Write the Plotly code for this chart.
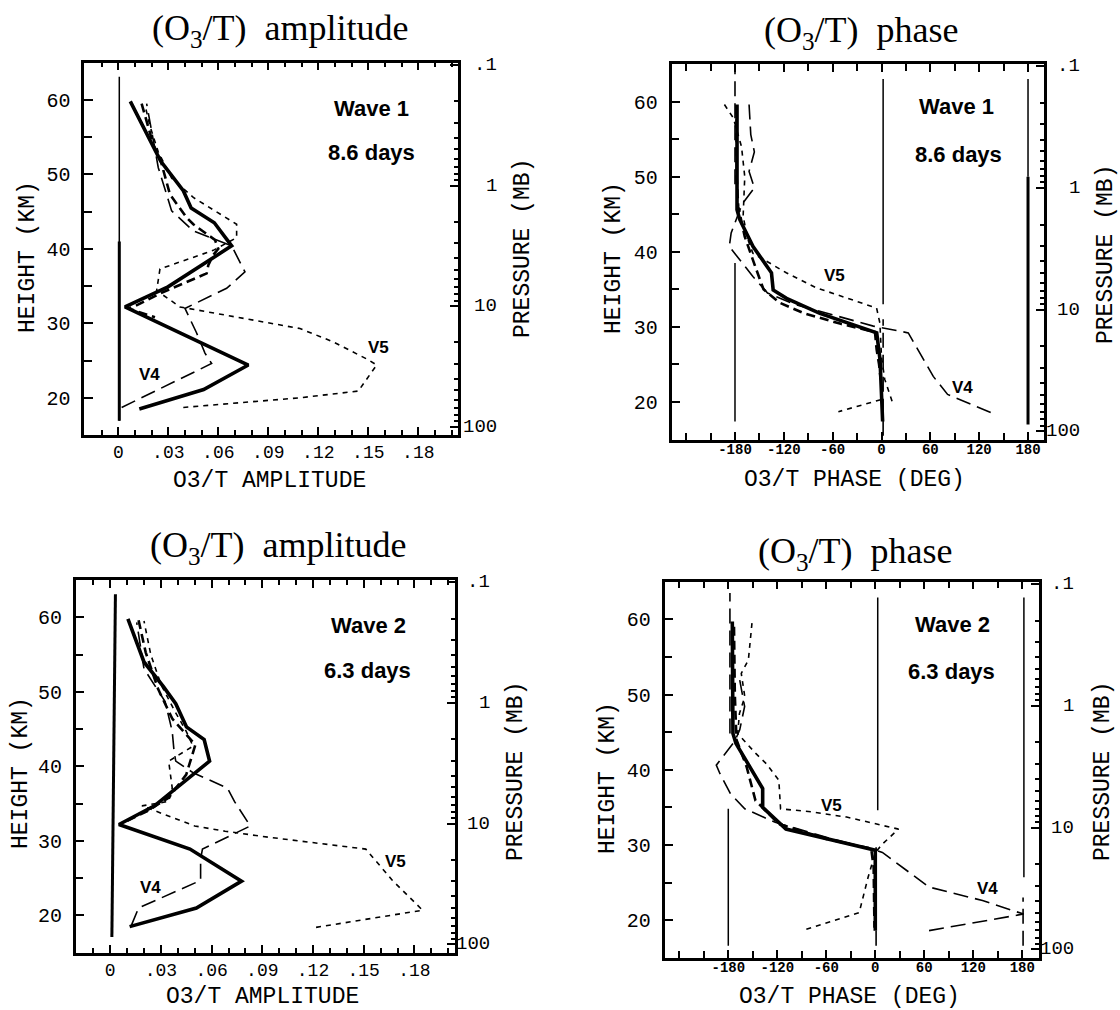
import math
import plotly.graph_objects as go

# ---------------- data ----------------
amp_tickvals = [0, 0.03, 0.06, 0.09, 0.12, 0.15, 0.18]
amp_ticktext = ['0', '.03', '.06', '.09', '.12', '.15', '.18']
phase_tickvals = [-180, -120, -60, 0, 60, 120, 180]
phase_ticktext = ['-180', '-120', '-60', '0', '60', '120', '180']
height_tickvals = [20, 30, 40, 50, 60]
pressure_tickvals = [0.1, 1, 10, 100]
pressure_ticktext = ['.1', '1', '10', '100']
pressure_minorvals = [0.2, 0.3, 0.4, 0.5, 0.6, 0.7, 0.8, 0.9,
                      2, 3, 4, 5, 6, 7, 8, 9,
                      20, 30, 40, 50, 60, 70, 80, 90]

# Wave 1 amplitude
w1a_thick_x = [0.0126, 0.0512, 0.078, 0.004, 0.0298, 0.068, 0.0576, 0.0437, 0.039, 0.0254, 0.0072]
w1a_thick_z = [18.5, 21.1, 24.4, 32.2, 34.9, 40.4, 43.5, 45.5, 47.8, 51.8, 59.8]
w1a_v4_x = [0.002, 0.056, 0.052, 0.047, 0.040, 0.065, 0.076, 0.068, 0.045, 0.032, 0.029, 0.024, 0.017]
w1a_v4_z = [18.7, 24.6, 26.0, 28.7, 32.0, 34.7, 36.9, 40.4, 42.4, 45.1, 47.3, 50.9, 59.5]
w1a_v5_x = [0.039, 0.109, 0.144, 0.155, 0.150, 0.129, 0.109, 0.037, 0.023, 0.025, 0.057, 0.071, 0.071, 0.045, 0.032, 0.024, 0.019, 0.016]
w1a_v5_z = [18.7, 20.0, 20.9, 24.4, 25.1, 27.5, 29.3, 32.2, 34.4, 37.3, 39.8, 41.5, 43.3, 46.9, 49.5, 53.0, 56.5, 59.3]
w1a_md_x = [0.014, 0.021, 0.025, 0.031, 0.041, 0.045, 0.058, 0.060, 0.057, 0.054, 0.053, 0.035, 0.025, 0.010, 0.006, 0.022]
w1a_md_z = [59.5, 54.0, 52.2, 47.3, 44.2, 43.3, 41.2, 40.0, 39.2, 37.8, 36.7, 34.9, 34.0, 32.3, 32.0, 30.8]
w1a_zero_x = [0.0006, 0.0006]
w1a_zero_z = [16.9, 63.1]
w1a_zero2_z = [16.9, 41.0]

# Wave 1 phase
w1p_thick_x = [-177.5, -177.5, -174.2, -157.8, -135.2, -133.1, -116.7, -75.7, -5.9, -1.8, 1.4]
w1p_thick_z = [59.6, 45.6, 44.3, 40.7, 37.2, 34.9, 33.8, 31.8, 29.2, 25.6, 17.4]
w1p_md_x = [-178, -178, -176, -168, -155, -145, -125, -95, -50, -8, -6, -3, -1]
w1p_md_z = [59.5, 50, 46, 42, 38, 35, 33.2, 31.8, 30.4, 29.3, 27, 25, 23]
w1p_v5_x = [-193, -182, -172, -168, -170, -164, -158, -117, -80, -35, -6, -2, 0, 4, 14.5]
w1p_v5_z = [59.6, 57.8, 54, 50, 44.7, 41.6, 39.8, 37.2, 35.2, 33.6, 32.5, 30.5, 26, 23, 19.6]
w1p_v5b_x = [-1, -53]
w1p_v5b_z = [20.3, 18.7]
w1p_v4_x = [-162.7, -160.6, -156.2, -162.7, -156.2, -171.5, -184.7, -187, -158, -140, -106.5, -67.4, -10, 32.9, 63.6, 81.2, 136]
w1p_v4_z = [59.6, 55.6, 53.3, 50.7, 48.5, 46.3, 42.5, 40.7, 36.7, 34.5, 33, 31.8, 30.1, 29.2, 23.4, 21, 18.5]

# Wave 2 amplitude
w2a_thick_x = [0.0115, 0.051, 0.0777, 0.0472, 0.0052, 0.0262, 0.0588, 0.0556, 0.0451, 0.0388, 0.0315, 0.020, 0.0105]
w2a_thick_z = [18.5, 21.0, 24.6, 28.9, 32.2, 34.7, 40.7, 43.6, 45.3, 48.4, 50.7, 54.0, 59.8]
w2a_v4_x = [0.0126, 0.0168, 0.0535, 0.0535, 0.0546, 0.0829, 0.0735, 0.0693, 0.0494, 0.0388, 0.0378, 0.0367, 0.0325, 0.020, 0.0157]
w2a_v4_z = [18.7, 21.0, 24.7, 27.6, 28.9, 32.0, 35.3, 37.1, 39.1, 40.7, 42.0, 44.7, 48.7, 53.1, 59.3]
w2a_v5_x = [0.1218, 0.1848, 0.167, 0.1512, 0.090, 0.068, 0.050, 0.035, 0.0188, 0.0346, 0.0367, 0.0346, 0.049, 0.045, 0.038, 0.030, 0.024, 0.020]
w2a_v5_z = [18.4, 20.7, 24.7, 28.9, 30.6, 31.3, 32.0, 33.3, 34.7, 35.3, 37.1, 40.7, 42.7, 44.7, 47.5, 51.0, 55.0, 59.5]
w2a_md_x = [0.0168, 0.021, 0.0283, 0.0367, 0.0504, 0.045, 0.0346, 0.022, 0.0073]
w2a_md_z = [59.6, 55.3, 50.4, 46.4, 42.9, 38.9, 35.8, 34.0, 32.4]
w2a_zero_x = [0.001, 0.0031]
w2a_zero_z = [17.1, 63.1]

# Wave 2 phase
w2p_thick_x = [-175.1, -174.3, -170.7, -137.9, -137.9, -109.4, 0, 0]
w2p_thick_z = [59.7, 44.8, 43.5, 37.5, 35.0, 32.1, 29.3, 18.6]
w2p_md_x = [-173, -172, -170, -157.6, -146.7, -118.1, -60, -5, -2, -1]
w2p_md_z = [59.0, 50.0, 44.0, 40.4, 35.9, 32.8, 30.8, 29.5, 27.0, 19.0]
w2p_v5_x = [-151, -155.4, -164.1, -159.8, -166.3, -168.5, -146.7, -133.5, -118.1, -116, -78.8, -35, 28.4, 8.7, 0, -8.8, -19.7, -52.6, -89.7]
w2p_v5_z = [59.5, 54.6, 52.8, 49.7, 47.5, 44.8, 42.2, 40.8, 38.6, 34.8, 34.4, 33.7, 32.1, 30.1, 29.0, 25.7, 21.0, 19.9, 18.6]
w2p_v4_x = [-166, -160, -166, -172, -194.7, -190.3, -177.3, -159.8, -122.5, -60, 0, 8.7, 65.7, 131.3, 181.6, 65.7]
w2p_v4_z = [51.9, 48.4, 45.3, 43.8, 40.6, 39.5, 36.8, 34.8, 33.0, 31.0, 29.3, 29.0, 24.4, 22.6, 20.8, 18.6]

# vertical reference lines in the phase panels: (x, z_bottom, z_top, style)
w1p_refs = [(-180, 49, 64, 'v4'), (-180, 17.4, 38.5, 'thin'),
            (2, 33, 63, 'thin'), (2, 15.5, 31, 'v4'),
            (180, 50, 63, 'thin'), (180, 17, 50, 'ref')]
w2p_refs = [(-178, 44.8, 63.5, 'v4'), (-180, 16.6, 34.8, 'thin'),
            (3, 34.6, 62.9, 'thin'), (1, 16.6, 29.7, 'v4'),
            (182, 25.7, 62.9, 'thin'), (181, 16.6, 23, 'v4')]

# ---------------- styles ----------------
styles = {
    'thick': dict(color='black', width=3.6),
    'v4': dict(color='black', width=1.6, dash='15px,7px'),
    'v5': dict(color='black', width=1.6, dash='5px,5px'),
    'md': dict(color='black', width=2.6, dash='9px,5px'),
    'thin': dict(color='black', width=1.5),
    'ref': dict(color='black', width=3),
}

fig = go.Figure()


def add(xs, zs, style, xa, ya):
    fig.add_trace(go.Scatter(x=xs, y=zs, mode='lines', line=styles[style],
                             xaxis=xa, yaxis=ya, showlegend=False, hoverinfo='skip'))


# panel 1 : x / y
add(w1a_zero_x, w1a_zero_z, 'thin', 'x', 'y')
add(w1a_zero_x, w1a_zero2_z, 'ref', 'x', 'y')
add(w1a_v5_x, w1a_v5_z, 'v5', 'x', 'y')
add(w1a_v4_x, w1a_v4_z, 'v4', 'x', 'y')
add(w1a_md_x, w1a_md_z, 'md', 'x', 'y')
add(w1a_thick_x, w1a_thick_z, 'thick', 'x', 'y')
# panel 2 : x2 / y2
for xv, z0, z1, st in w1p_refs:
    add([xv, xv], [z0, z1], st, 'x2', 'y2')
add(w1p_v5_x, w1p_v5_z, 'v5', 'x2', 'y2')
add(w1p_v5b_x, w1p_v5b_z, 'v5', 'x2', 'y2')
add(w1p_v4_x, w1p_v4_z, 'v4', 'x2', 'y2')
add(w1p_md_x, w1p_md_z, 'md', 'x2', 'y2')
add(w1p_thick_x, w1p_thick_z, 'thick', 'x2', 'y2')
# panel 3 : x3 / y3
add(w2a_zero_x, w2a_zero_z, 'ref', 'x3', 'y3')
add(w2a_v5_x, w2a_v5_z, 'v5', 'x3', 'y3')
add(w2a_v4_x, w2a_v4_z, 'v4', 'x3', 'y3')
add(w2a_md_x, w2a_md_z, 'md', 'x3', 'y3')
add(w2a_thick_x, w2a_thick_z, 'thick', 'x3', 'y3')
# panel 4 : x4 / y4
for xv, z0, z1, st in w2p_refs:
    add([xv, xv], [z0, z1], st, 'x4', 'y4')
add(w2p_v5_x, w2p_v5_z, 'v5', 'x4', 'y4')
add(w2p_v4_x, w2p_v4_z, 'v4', 'x4', 'y4')
add(w2p_md_x, w2p_md_z, 'md', 'x4', 'y4')
add(w2p_thick_x, w2p_thick_z, 'thick', 'x4', 'y4')

# invisible anchors for pressure axes
for xa, ya, xv in [('x', 'y5', 0.1), ('x2', 'y6', 0), ('x3', 'y7', 0.1), ('x4', 'y8', 0)]:
    fig.add_trace(go.Scatter(x=[xv], y=[1], mode='markers', marker=dict(opacity=0),
                             xaxis=xa, yaxis=ya, showlegend=False, hoverinfo='skip'))

W, H = 1120, 1010
mono = 'Liberation Mono'

# panel boxes in pixels: (left, right, top, bottom)
boxes = [(84.3, 458.3, 62.7, 435.0), (671.5, 1044.3, 64.0, 439.5),
         (75.7, 455.0, 580.0, 952.7), (664.6, 1038.6, 581.7, 957.7)]
kinds = ['amp', 'phase', 'amp', 'phase']
plabel_right = [499, 1082, 492, 1076]   # right edge of pressure labels (px)

layout = dict(width=W, height=H, margin=dict(l=0, r=0, t=0, b=0),
              plot_bgcolor='white', paper_bgcolor='white', showlegend=False)

for i, ((l, r, t, b), kind) in enumerate(zip(boxes, kinds)):
    n = '' if i == 0 else str(i + 1)
    xd = [l / W, r / W]
    yd = [1 - b / H, 1 - t / H]
    if kind == 'amp':
        xax = dict(range=[-0.0204, 0.204], tickmode='array', tickvals=amp_tickvals,
                   ticktext=amp_ticktext, tickfont=dict(family=mono, size=18, color='black'),
                   ticklabelstandoff=-1,
                   minor=dict(dtick=0.01, tick0=0, ticks='inside', ticklen=5, tickwidth=1.5, tickcolor='black'))
    else:
        xax = dict(range=[-258, 200], tickmode='array', tickvals=phase_tickvals,
                   ticktext=phase_ticktext, tickfont=dict(family=mono, size=14, color='black', weight='bold'),
                   ticklabelstandoff=-5,
                   minor=dict(dtick=30, tick0=0, ticks='inside', ticklen=7, tickwidth=1.5, tickcolor='black'))
    xax.update(domain=xd, anchor='y' + n, ticks='inside', ticklen=8, tickwidth=1.5, tickcolor='black',
               showline=True, linewidth=2.5, linecolor='black', mirror='ticks',
               showgrid=False, zeroline=False, fixedrange=True)
    layout['xaxis' + n] = xax
    layout['yaxis' + n] = dict(domain=yd, anchor='x' + n, range=[15, 65], tickmode='array',
                               tickvals=height_tickvals, ticks='inside', ticklen=9, tickwidth=1.5,
                               tickcolor='black', showline=True, linewidth=2.5, linecolor='black',
                               showgrid=False, zeroline=False, ticklabelstandoff=7,
                               tickfont=dict(family=mono, size=20, color='black'),
                               minor=dict(dtick=5, tick0=0, ticks='inside', ticklen=8, tickwidth=1.5, tickcolor='black'))
    layout['yaxis' + str(i + 5)] = dict(overlaying='y' + n, anchor='x' + n, side='right', type='log',
                                        range=[2.069, -1.019], tickmode='array', tickvals=pressure_tickvals,
                                        showticklabels=False, ticks='inside', ticklen=8, tickwidth=1.5,
                                        tickcolor='black', showline=True, linewidth=3, linecolor='black',
                                        showgrid=False, zeroline=False,
                                        minor=dict(tickmode='array', tickvals=pressure_minorvals, ticks='inside',
                                                   ticklen=4, tickwidth=1.5, tickcolor='black'))

fig.update_layout(**layout)


def P(px, py):
    return px / W, 1 - py / H


ann = []
# pressure tick labels, right-aligned like the original plotter output
for i in range(4):
    for pv, pt in zip(pressure_tickvals, pressure_ticktext):
        ann.append(dict(text=pt, x=plabel_right[i] / W, y=math.log10(pv), xref='paper', yref='y' + str(i + 5),
                        showarrow=False, xanchor='right', yanchor='middle',
                        font=dict(family=mono, size=19, color='black')))

titles = [('(O<sub>3</sub>/T)\u00a0 amplitude', 280, 30), ('(O<sub>3</sub>/T)\u00a0 phase', 861, 32),
          ('(O<sub>3</sub>/T)\u00a0 amplitude', 278, 547), ('(O<sub>3</sub>/T)\u00a0 phase', 855, 553)]
for txt, px, py in titles:
    x, y = P(px, py)
    ann.append(dict(text=txt, x=x, y=y, xref='paper', yref='paper', showarrow=False,
                    xanchor='center', yanchor='middle',
                    font=dict(family='Liberation Serif', size=36, color='black')))

axis_titles = [('O3/T AMPLITUDE', 269, 481, 0), ('HEIGHT (KM)', 28, 257, -90), ('PRESSURE (MB)', 523, 249, -90),
               ('O3/T PHASE (DEG)', 854, 480, 0), ('HEIGHT (KM)', 614, 258, -90), ('PRESSURE (MB)', 1106, 255, -90),
               ('O3/T AMPLITUDE', 262, 997, 0), ('HEIGHT (KM)', 21, 773, -90), ('PRESSURE (MB)', 516, 772, -90),
               ('O3/T PHASE (DEG)', 849, 997, 0), ('HEIGHT (KM)', 608, 778, -90), ('PRESSURE (MB)', 1103, 772, -90)]
for txt, px, py, ang in axis_titles:
    x, y = P(px, py)
    ann.append(dict(text=txt, x=x, y=y, xref='paper', yref='paper', showarrow=False, textangle=ang,
                    xanchor='center', yanchor='middle', font=dict(family=mono, size=23, color='black')))

labels = [('Wave 1', 0.152, 58.9, 'x', 'y', 22), ('8.6 days', 0.152, 52.9, 'x', 'y', 22),
          ('V4', 0.019, 23.1, 'x', 'y', 17), ('V5', 0.156, 26.7, 'x', 'y', 17),
          ('Wave 1', 92, 59.3, 'x2', 'y2', 22), ('8.6 days', 94, 52.9, 'x2', 'y2', 22),
          ('V5', -58, 36.9, 'x2', 'y2', 17), ('V4', 100, 21.9, 'x2', 'y2', 17),
          ('Wave 2', 0.153, 58.9, 'x3', 'y3', 22), ('6.3 days', 0.152, 52.9, 'x3', 'y3', 22),
          ('V4', 0.024, 23.7, 'x3', 'y3', 17), ('V5', 0.169, 27.3, 'x3', 'y3', 17),
          ('Wave 2', 94, 59.3, 'x4', 'y4', 22), ('6.3 days', 93, 53.0, 'x4', 'y4', 22),
          ('V5', -54, 35.3, 'x4', 'y4', 17), ('V4', 138, 24.2, 'x4', 'y4', 17)]
for txt, xv, yv, xr, yr, sz in labels:
    ann.append(dict(text=txt, x=xv, y=yv, xref=xr, yref=yr, showarrow=False,
                    xanchor='center', yanchor='middle',
                    font=dict(family='Liberation Sans', size=sz, color='black', weight='bold')))

fig.update_layout(annotations=ann)
fig.write_html('out.html')
